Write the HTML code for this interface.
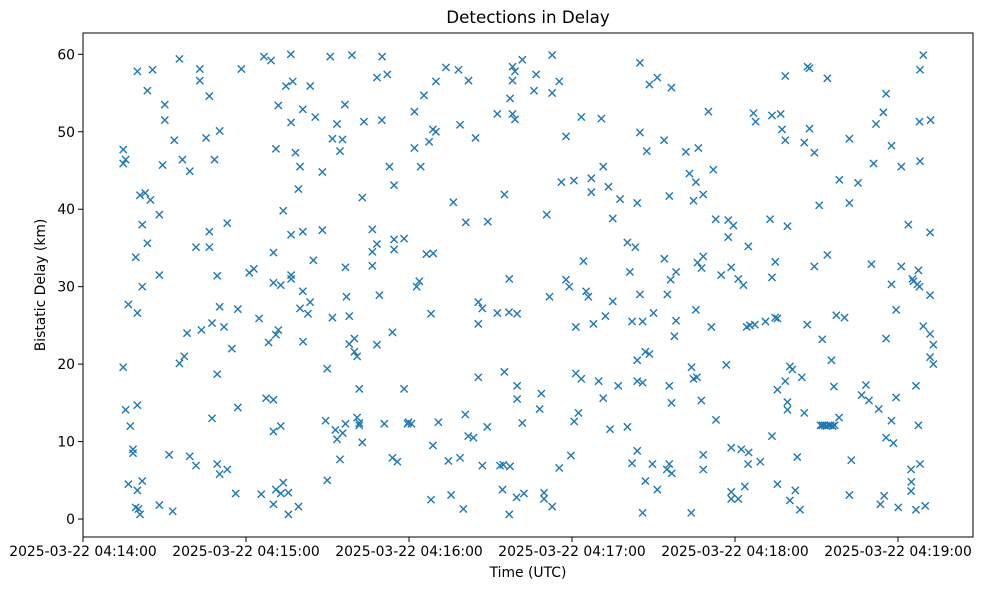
<!DOCTYPE html>
<html><head><meta charset="utf-8"><style>
body{margin:0;background:#fff;}
svg{display:block;font-family:"DejaVu Sans","Liberation Sans",sans-serif;}
</style></head><body>
<svg id="chart" width="983" height="590" viewBox="0 0 983 590" xmlns="http://www.w3.org/2000/svg">
<rect width="983" height="590" fill="#fff"/>
<text x="528" y="23" font-size="16.7" text-anchor="middle">Detections in Delay</text>
<text x="528" y="577" font-size="13.9" text-anchor="middle">Time (UTC)</text>
<text transform="translate(45,285) rotate(-90)" font-size="13.9" text-anchor="middle">Bistatic Delay (km)</text>
<g id="marks"></g>
<g id="axes"></g>
</svg>
<script>
// seconds after 2025-03-22 04:14:00
const timeSec = [14.8,15.7,14.8,14.8,15.7,17.4,18.4,18.4,20.0,25.6,23.7,30.1,30.1,29.3,35.5,33.6,36.6,39.3,43.0,43.0,46.5,45.3,50.3,48.4,21.0,22.9,24.8,28.1,21.8,23.7,19.4,21.8,28.1,41.6,46.5,46.5,53.1,49.4,50.3,16.7,20.0,47.5,43.6,38.3,51.9,54.8,35.5,37.3,49.4,20.0,47.5,16.7,20.0,21.8,19.4,20.4,21.0,28.1,33.0,31.7,39.3,41.6,49.4,50.3,53.1,56.2,57.0,57.0,
58.3,66.6,69.2,76.5,91.0,99.0,110.1,74.7,77.2,83.6,108.2,112.0,71.9,80.9,85.5,96.4,76.6,93.5,103.4,110.0,91.8,95.5,94.6,71.0,78.2,79.9,88.1,112.8,114.5,79.3,102.8,73.7,76.6,80.9,88.1,106.5,108.2,106.5,114.5,118.2,114.5,70.1,84.8,96.6,106.5,61.2,62.9,70.1,72.8,76.6,76.6,80.9,83.6,79.9,82.8,97.0,109.1,64.8,91.8,98.0,68.3,71.0,71.9,81.0,98.0,99.9,99.9,100.9,108.2,113.9,89.9,101.7,118.2,67.4,70.1,70.1,72.8,89.3,92.9,95.6,93.5,96.6,100.9,101.7,101.7,110.9,119.5,102.8,94.6,113.9,115.7,89.9,65.6,71.0,73.7,72.8,75.6,70.1,75.6,79.3,
122.0,125.5,129.9,133.6,138.2,141.9,128.8,129.9,127.4,122.0,124.3,138.8,144.5,152.5,157.2,158.1,159.0,158.1,158.1,159.0,161.7,166.8,166.0,172.7,172.7,175.3,177.8,136.3,155.1,170.7,176.1,180.7,140.9,149.0,126.4,128.9,123.8,122.8,128.1,145.5,147.0,145.5,152.5,156.8,159.8,156.9,177.8,179.0,171.7,181.4,145.5,155.1,159.8,159.8,168.7,168.1,181.4,182.4,180.8,119.8,120.9,130.8,140.7,148.8,161.7,141.8,143.7,128.8,134.5,138.8,147.0,153.5,154.7,157.2,175.3,179.6,154.4,159.6,162.3,169.7,169.7,172.7,128.1,135.5,140.0,156.9,
205.0,208.5,211.4,216.6,183.4,190.8,205.0,207.5,213.9,221.9,226.5,230.2,187.1,187.1,191.5,193.4,197.7,204.0,215.8,223.2,225.6,224.7,228.3,232.0,195.0,232.9,237.5,239.4,237.5,200.4,203.3,184.2,201.3,214.0,218.3,216.3,226.2,227.7,228.3,234.9,238.6,241.2,243.1,185.2,186.0,195.0,205.0,215.1,210.0,225.6,192.3,187.9,202.1,206.0,218.3,217.7,231.3,204.0,207.0,208.5,183.4,189.8,197.0,191.5,204.0,206.0,215.8,216.6,224.0,224.7,226.0,227.6,236.8,233.0,194.0,200.4,204.0,202.1,209.6,215.8,214.9,216.7,228.3,228.3,238.6,242.3,207.0,211.4,206.0,223.9,238.6,238.6,241.2,243.6,
258.5,266.7,267.4,274.0,295.6,294.6,291.9,246.8,247.6,253.6,256.8,257.3,267.4,258.5,265.5,269.2,282.1,297.6,291.0,301.2,278.4,285.3,271.0,282.1,252.9,259.3,303.8,244.9,254.8,269.2,274.0,290.2,301.2,253.6,297.6,305.7,299.3,244.3,245.5,247.3,251.2,254.8,255.6,266.6,277.3,280.3,295.6,272.1,275.5,260.2,261.1,264.6,258.5,255.6,276.4,259.3,259.3,265.5,288.2,286.6,289.3,292.9,299.3,297.6,271.5,272.2,273.0,273.7,274.5,275.2,276.0,276.7,278.3,253.6,295.6,298.3,245.0,244.8,249.3,262.9,282.8,304.8,255.6,262.2,260.2,263.9,282.1,294.9,293.5,300.1,304.8,
309.3,308.1,307.9,312.0,308.1,311.8,307.5,305.3,307.1,307.9,311.8,309.3,311.8,313.0,311.8,313.0,306.6,307.5,308.1,304.9,306.6,310.0];
const delayKm = [47.7,46.4,45.9,19.6,14.1,12.0,9.0,8.5,57.8,58.0,55.3,53.5,51.5,45.7,59.4,48.9,46.4,44.9,58.1,56.6,54.6,49.2,50.1,46.4,41.8,42.1,41.2,39.3,38.0,35.6,33.8,30.0,31.5,35.1,35.1,37.1,38.2,31.4,27.4,27.7,26.6,25.3,24.4,24.0,24.8,22.0,20.1,21.0,18.7,14.7,13.0,4.5,3.7,4.9,1.5,1.3,0.6,1.8,1.0,8.3,8.1,6.9,7.1,5.8,6.4,3.3,14.4,27.1,
58.1,59.7,59.2,60.0,59.7,59.9,59.7,55.9,56.5,55.9,57.0,57.4,53.4,52.9,51.9,53.5,51.2,51.0,51.3,51.5,49.1,49.0,47.5,47.8,47.3,45.5,44.8,45.5,43.1,42.6,41.5,39.8,36.7,37.1,37.3,37.4,35.5,34.5,36.1,36.2,34.8,34.4,33.4,32.5,32.7,31.8,32.3,30.5,30.2,31.5,31.0,29.4,28.0,27.2,26.5,28.7,28.9,25.9,26.0,26.2,22.8,23.8,24.4,22.9,22.6,23.3,21.6,21.0,22.5,24.1,19.4,16.8,16.8,15.6,15.4,11.3,12.0,12.7,11.5,11.1,10.3,12.3,13.1,12.4,12.1,12.3,12.3,9.9,7.7,7.9,7.4,5.0,3.2,3.8,4.7,3.3,3.4,1.9,0.6,1.6,
52.6,54.7,56.5,58.3,58.0,56.6,50.3,50.0,48.7,47.9,45.5,50.9,49.2,52.3,54.3,58.4,57.8,56.6,52.3,51.6,59.3,57.4,55.3,59.9,55.0,56.5,49.4,40.9,41.9,39.3,43.5,43.7,38.3,38.4,34.2,34.3,30.7,30.0,26.5,28.0,27.2,25.2,26.6,26.7,26.5,31.0,30.9,30.0,28.7,24.8,18.3,19.0,17.2,15.5,16.2,14.2,18.8,13.7,12.6,12.5,12.3,12.5,13.5,11.9,12.4,10.7,10.5,9.5,7.5,7.9,6.9,6.9,7.0,6.8,6.6,8.2,3.8,2.8,3.3,3.4,2.6,1.6,2.5,3.1,1.3,0.6,
58.9,56.1,57.0,55.7,51.9,51.7,49.9,47.5,48.9,47.4,47.9,52.6,44.0,42.2,45.5,42.9,41.3,40.8,41.7,44.6,43.5,41.1,41.9,45.1,38.8,38.7,38.6,37.9,36.4,35.7,35.1,33.3,31.9,33.6,31.9,30.9,33.1,32.4,33.9,31.5,32.5,31.0,30.2,29.4,28.7,28.1,29.0,29.0,26.6,27.0,26.2,25.2,25.5,25.5,25.6,23.6,24.8,20.5,21.6,21.3,18.1,17.8,17.2,15.6,17.8,17.6,17.2,15.0,19.6,18.1,18.3,15.3,19.9,12.8,11.6,11.9,8.8,7.2,7.1,7.1,6.4,5.9,8.3,6.4,9.2,9.0,4.9,3.8,0.8,0.8,3.5,2.6,2.6,4.2,
57.2,58.4,58.2,56.9,54.9,52.5,51.0,52.4,51.3,52.1,52.3,50.3,50.4,48.9,48.6,47.3,49.1,48.2,45.9,45.5,43.8,43.4,40.5,40.8,38.7,37.8,38.0,35.2,33.2,32.6,34.1,32.9,32.6,31.2,30.3,30.7,27.0,24.8,25.0,25.1,25.5,26.0,25.9,25.1,26.3,26.0,23.3,23.2,20.5,19.7,19.3,18.3,17.8,16.7,17.1,15.1,14.1,13.7,17.3,16.0,15.3,14.2,15.7,12.7,12.1,12.1,12.1,12.0,12.1,12.1,12.0,12.1,13.1,10.7,10.5,9.8,8.6,7.1,7.4,8.0,7.6,6.4,4.5,3.7,2.4,1.2,3.1,3.0,1.9,1.5,3.6,
59.9,58.0,51.3,51.5,46.2,37.0,32.1,31.0,30.3,30.0,28.9,24.9,23.9,22.5,20.9,20.0,17.2,12.1,7.1,4.8,1.2,1.7];
const xTickSec = [0,60,120,180,240,300];
const xTickLabels = ["2025-03-22 04:14:00","2025-03-22 04:15:00","2025-03-22 04:16:00","2025-03-22 04:17:00","2025-03-22 04:18:00","2025-03-22 04:19:00"];
const yTicks = [0,10,20,30,40,50,60];

const L=83,R=973,T=33,B=537;
const xMin=0,xMax=327.6,yMin=-2.32,yMax=62.75;
const NS="http://www.w3.org/2000/svg";
function xs(v){return L+(v-xMin)/(xMax-xMin)*(R-L);}
function ys(v){return B-(v-yMin)/(yMax-yMin)*(B-T);}
function mk(tag,attrs,parent){const e=document.createElementNS(NS,tag);for(const k in attrs)e.setAttribute(k,attrs[k]);parent.appendChild(e);return e;}
const marks=document.getElementById('marks');
const axes=document.getElementById('axes');
const n=Math.min(timeSec.length,delayKm.length);
for(let i=0;i<n;i++){
  const cx=xs(timeSec[i]),cy=ys(delayKm[i]),r=3.6;
  const p=mk('path',{d:`M${cx-r},${cy-r}L${cx+r},${cy+r}M${cx-r},${cy+r}L${cx+r},${cy-r}`,stroke:'#1f77b4','stroke-width':1.4,fill:'none'},marks);
  
  
}
const frame=mk('rect',{x:L,y:T,width:R-L,height:B-T,fill:'none',stroke:'#000','stroke-width':1},axes);


xTickSec.forEach((s,i)=>{
  const x=xs(s);
  const t=mk('line',{x1:x,x2:x,y1:B,y2:B+5,stroke:'#000','stroke-width':1},axes);
  
  
  const tx=mk('text',{x:x,y:B+19,'font-size':13.9,'text-anchor':'middle'},axes);
  tx.textContent=xTickLabels[i];
  
  
});
yTicks.forEach(v=>{
  const y=ys(v);
  const t=mk('line',{x1:L-5,x2:L,y1:y,y2:y,stroke:'#000','stroke-width':1},axes);
  
  
  const tx=mk('text',{x:L-8,y:y+5,'font-size':13.9,'text-anchor':'end'},axes);
  tx.textContent=String(v);
  
  
});
</script>
</body></html>
